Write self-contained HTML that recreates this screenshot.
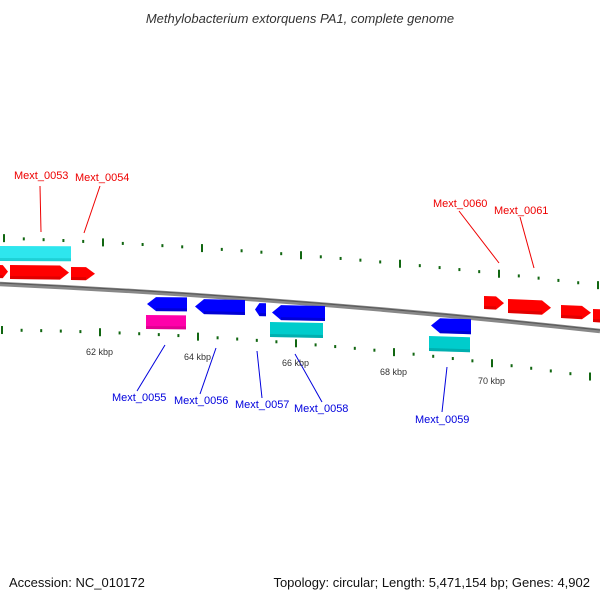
<!DOCTYPE html>
<html><head><meta charset="utf-8"><style>
body{margin:0;background:#fff;width:600px;height:600px;overflow:hidden;font-family:"Liberation Sans",sans-serif}
svg{position:absolute;left:0;top:0}
</style></head><body>
<svg id="s" width="600" height="600" viewBox="0 0 600 600" xmlns="http://www.w3.org/2000/svg">
<text x="300" y="23" text-anchor="middle" font-size="13" font-style="italic" fill="#333" font-family="Liberation Sans, sans-serif">Methylobacterium extorquens PA1, complete genome</text>
<text x="9" y="587" font-size="13" fill="#111" font-family="Liberation Sans, sans-serif">Accession: NC_010172</text>
<text x="590" y="587" text-anchor="end" font-size="13" fill="#111" font-family="Liberation Sans, sans-serif">Topology: circular; Length: 5,471,154 bp; Genes: 4,902</text>
<path d="M0,284 Q300,298 600,331" stroke="#888" stroke-width="4.5" fill="none"/>
<path d="M0,283 Q300,297 600,330" stroke="#555" stroke-width="1" fill="none"/>
<g id="g"></g>
<g font-size="11" font-family="Liberation Sans, sans-serif">
<text x="14" y="179" fill="#e00">Mext_0053</text>
<text x="75" y="181" fill="#e00">Mext_0054</text>
<text x="433" y="207" fill="#e00">Mext_0060</text>
<text x="494" y="214" fill="#e00">Mext_0061</text>
<text x="112" y="401" fill="#00d">Mext_0055</text>
<text x="174" y="404" fill="#00d">Mext_0056</text>
<text x="235" y="408" fill="#00d">Mext_0057</text>
<text x="294" y="412" fill="#00d">Mext_0058</text>
<text x="415" y="423" fill="#00d">Mext_0059</text>
</g>
<g stroke-width="1" fill="none">
<line x1="40" y1="186" x2="41" y2="232" stroke="#e00"/>
<line x1="100" y1="186" x2="84" y2="233" stroke="#e00"/>
<line x1="459" y1="211" x2="499" y2="263" stroke="#e00"/>
<line x1="520" y1="217" x2="534" y2="268" stroke="#e00"/>
<line x1="165" y1="345" x2="137" y2="391" stroke="#00d"/>
<line x1="216" y1="348" x2="200" y2="394" stroke="#00d"/>
<line x1="257" y1="351" x2="262" y2="398" stroke="#00d"/>
<line x1="295" y1="354" x2="322" y2="402" stroke="#00d"/>
<line x1="447" y1="367" x2="442" y2="412" stroke="#00d"/>
</g>
<g font-size="9" fill="#333" font-family="Liberation Sans, sans-serif">
<text x="86" y="355">62 kbp</text>
<text x="184" y="360">64 kbp</text>
<text x="282" y="366">66 kbp</text>
<text x="380" y="375">68 kbp</text>
<text x="478" y="384">70 kbp</text>
</g>
</svg>
<script>
var g=document.getElementById('g'),h='';
function yu(x){return 238+0.0352*x+7.3e-5*x*x}
function yl(x){return 330+0.0107*x+1.155e-4*x*x}
for(var i=-1;i<32;i++){var x=4+i*19.8;if(x<0||x>600)continue;var maj=(i%5==0);var y=yu(x);
h+='<rect x="'+(x-1)+'" y="'+(y-(maj?4:1.5))+'" width="2" height="'+(maj?8:3)+'" fill="#161"/>';}
for(var i=-1;i<32;i++){var x=2+i*19.6;if(x<0||x>600)continue;var maj=(i%5==0);var y=yl(x);
h+='<rect x="'+(x-1)+'" y="'+(y-(maj?4:1.5))+'" width="2" height="'+(maj?8:3)+'" fill="#161"/>';}
function gene(x1,x2,t,hh,s,dir,col,dark){var a=Math.min(9,(x2-x1)*0.4);var yt1=t,yt2=t+(x2-x1)*s,p;
if(dir>0)p=[[x1,yt1],[x2-a,yt2-a*s],[x2,yt2+hh/2],[x2-a,yt2+hh],[x1,yt1+hh]];
else if(dir<0)p=[[x1+a,yt1+a*s],[x2,yt2],[x2,yt2+hh],[x1+a,yt1+hh+a*s],[x1,yt1+hh/2]];
else p=[[x1,yt1],[x2,yt2],[x2,yt2+hh],[x1,yt1+hh]];
h+='<polygon points="'+p.map(function(q){return q.join(',')}).join(' ')+'" fill="'+col+'"/>';
var bx=dir<0?x1+a:x1, ex=dir>0?x2-a:x2;
h+='<polygon points="'+bx+','+(yt1+hh-3+(bx-x1)*s)+' '+ex+','+(yt1+hh-3+(ex-x1)*s)+' '+ex+','+(yt1+hh+(ex-x1)*s)+' '+bx+','+(yt1+hh+(bx-x1)*s)+'" fill="'+dark+'" opacity="0.35"/>';}
gene(0,71,246,15,0.003,0,'#2ee6ee','#0aa');
gene(-5,8,265,13,0.01,1,'#f00','#a00');
gene(10,69,265,14,0.01,1,'#f00','#a00');
gene(71,95,267,13,0.01,1,'#f00','#a00');
gene(484,504,296,13,0.03,1,'#f00','#a00');
gene(508,551,299,14,0.04,1,'#f00','#a00');
gene(561,591,305,13,0.04,1,'#f00','#a00');
gene(593,610,309,13,0.04,1,'#f00','#a00');
gene(147,187,297,14,0.01,-1,'#00f','#008');
gene(195,245,299,15,0.02,-1,'#00f','#008');
gene(255,266,303,13,0.02,-1,'#00f','#008');
gene(272,325,305,15,0.02,-1,'#00f','#008');
gene(146,186,315,14,0.01,0,'#f0a','#a06');
gene(270,323,322,15,0.02,0,'#0cc','#077');
gene(431,471,318,15,0.03,-1,'#00f','#008');
gene(429,470,336,15,0.03,0,'#0cc','#077');
g.innerHTML=h;
</script>
</body></html>
